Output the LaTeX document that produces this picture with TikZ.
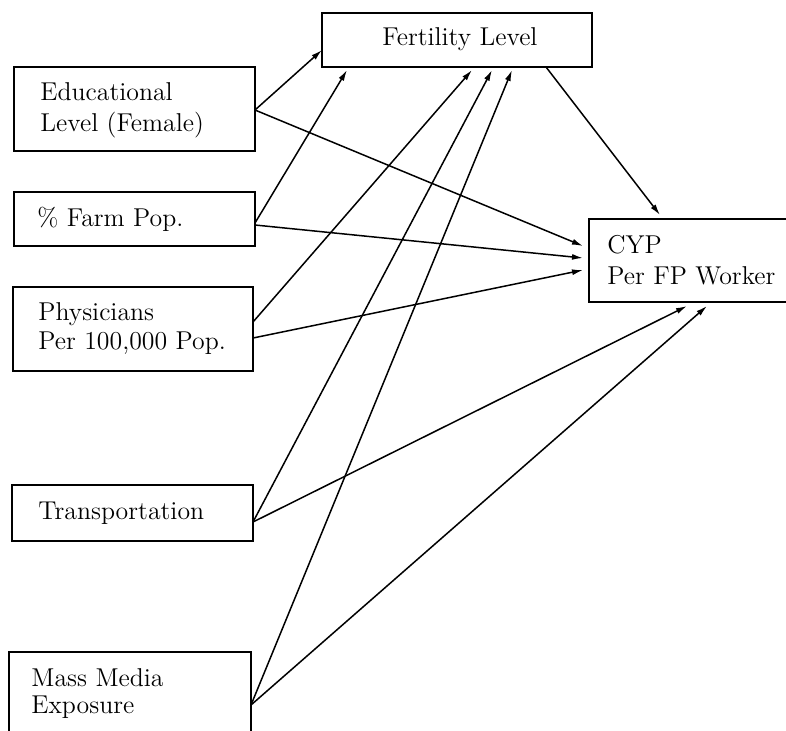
\documentclass[tikz,border=0pt]{standalone}
\usetikzlibrary{arrows.meta,calc}
\begin{document}
\begin{tikzpicture}[x=0.5pt,y=-0.5pt,
  box/.style={draw,line width=0.85pt,inner sep=0pt,outer sep=0pt,anchor=north west},
  lbl/.style={anchor=base west,inner sep=0pt,font=\fontsize{12.9}{15}\selectfont},
  arr/.style={line width=0.75pt,-{Latex[length=5.5pt,width=3pt]}}]
\useasboundingbox (0,0) rectangle (786,730);
\clip (0,0) rectangle (786,730);
% boxes
\node[box,minimum width=135pt,minimum height=27pt] (fert) at (322,13) {};
\node[box,minimum width=120.5pt,minimum height=42pt] (edu) at (14,67) {};
\node[box,minimum width=120.5pt,minimum height=27pt] (farm) at (14,192) {};
\node[box,minimum width=120pt,minimum height=42pt] (phys) at (13,287) {};
\node[box,minimum width=120.5pt,minimum height=28pt] (trans) at (12,485) {};
\node[box,minimum width=121pt,minimum height=54pt] (media) at (9,652) {};
\node[box,minimum width=115.5pt,minimum height=41.5pt] (cyp) at (589,219) {};
% labels
\node[lbl] (tfert) at (382,45) {Fertility Level};
\node[lbl] (tedu1) at (40,100) {Educational};
\node[lbl] (tedu2) at (40,131) {Level (Female)};
\node[lbl] (tfarm) at (37,226) {\% Farm Pop.};
\node[lbl] (tphys1) at (38,320) {Physicians};
\node[lbl] (tphys2) at (38,349) {Per 100,000 Pop.};
\node[lbl] (ttrans) at (38,519) {Transportation};
\node[lbl] (tmed1) at (31,686) {Mass Media};
\node[lbl] (tmed2) at (31,713) {Exposure};
\node[lbl] (tcyp1) at (607,253) {CYP};
\node[lbl] (tcyp2) at (607,284) {Per FP Worker};
% connectors
\draw[arr] ($(edu.north east)+(0,43)$) -- ($(fert.north west)+(0,37)$);
\draw[arr] ($(edu.north east)+(0,43)$) -- ($(cyp.north west)+(-6,27)$);
\draw[arr] ($(farm.north east)+(0,31)$) -- ($(fert.south west)+(25,3)$);
\draw[arr] ($(farm.north east)+(0,33)$) -- ($(cyp.north west)+(-6,39)$);
\draw[arr] ($(phys.north east)+(0,35)$) -- ($(fert.south west)+(150,3)$);
\draw[arr] ($(phys.north east)+(0,51)$) -- ($(cyp.north west)+(-6,51)$);
\draw[arr] ($(trans.north east)+(0,37)$) -- ($(fert.south west)+(170,3)$);
\draw[arr] ($(trans.north east)+(0,37)$) -- ($(cyp.south west)+(98,4)$);
\draw[arr] ($(media.north east)+(0,53)$) -- ($(fert.south west)+(190,3)$);
\draw[arr] ($(media.north east)+(0,53)$) -- ($(cyp.south west)+(118,4)$);
\draw[arr] ($(fert.south west)+(224,0)$) -- ($(cyp.north west)+(71,-4)$);
\end{tikzpicture}
\end{document}
